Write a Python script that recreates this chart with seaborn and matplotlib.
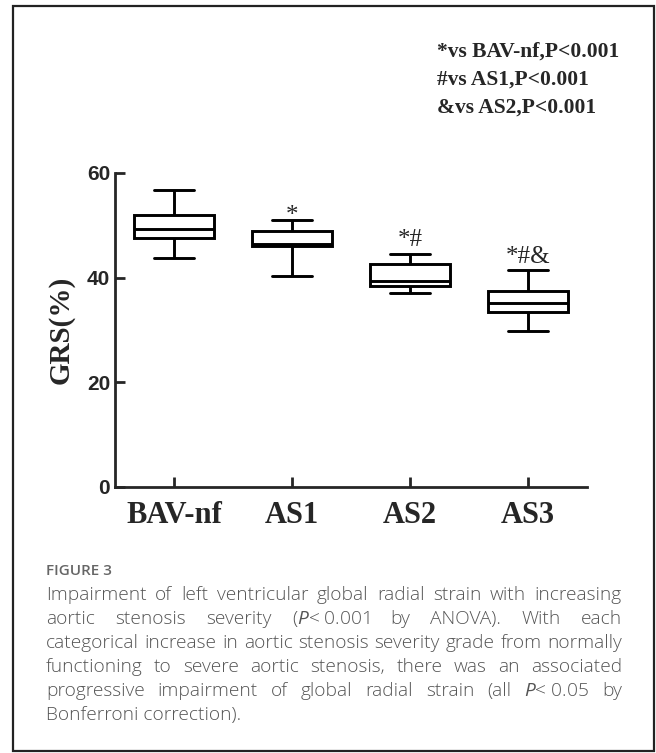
import numpy as np
import pandas as pd
import matplotlib
matplotlib.use("Agg")
import matplotlib.pyplot as plt
import seaborn as sns
from matplotlib.patches import Rectangle

# ── values (GRS %, five-number summary per group) ──
groups       = ["BAV-nf", "AS1", "AS2", "AS3"]
whisker_low  = [43.8, 40.4, 37.1, 29.9]
q1           = [47.6, 46.1, 38.5, 33.5]
median       = [49.3, 46.4, 39.3, 35.1]
q3           = [51.9, 48.9, 42.6, 37.5]
whisker_high = [56.8, 51.0, 44.5, 41.5]

sig_marks = ["", "*", "*#", "*#&"]
sig_y     = [0, 50.6, 46.0, 42.8]

legend_lines = ["*vs BAV-nf,P<0.001", "#vs AS1,P<0.001", "&vs AS2,P<0.001"]

caption_title = "FIGURE 3"
NB = "\u00a0"
caption_lines = [
    "Impairment of left ventricular global radial strain with increasing",
    f"aortic stenosis severity ($\\it{{P}}$<{NB}0.001 by ANOVA). With each",
    "categorical increase in aortic stenosis severity grade from normally",
    "functioning to severe aortic stenosis, there was an associated",
    f"progressive impairment of global radial strain (all $\\it{{P}}$<{NB}0.05 by",
    "Bonferroni correction).",
]

# five points per group -> quartiles land exactly on the read values
rows = []
for g, a, b, c, d, e in zip(groups, whisker_low, q1, median, q3, whisker_high):
    for v in (a, b, c, d, e):
        rows.append({"group": g, "grs": v})
df = pd.DataFrame(rows)

sns.set_style("ticks")
plt.rcParams["mathtext.fontset"] = "custom"
plt.rcParams["mathtext.rm"] = "Open Sans"
plt.rcParams["mathtext.it"] = "Open Sans:italic"

W, H = 656, 753
fig = plt.figure(figsize=(W / 100, H / 100), dpi=100)
ax = fig.add_axes([115 / W, 1 - 487 / H, 472 / W, 314 / H])

sns.boxplot(
    data=df, x="group", y="grs", order=groups, whis=np.inf,
    width=0.67, color="white", linecolor="black", linewidth=2.1,
    saturation=1, ax=ax,
)

sns.despine(ax=ax)
for side in ("left", "bottom"):
    ax.spines[side].set_linewidth(2.0)
ax.set_xlim(-0.5, 3.5)
ax.set_ylim(0, 60)
ax.set_yticks([0, 20, 40, 60])
ax.tick_params(direction="in", length=7, width=2.0)
ax.tick_params(axis="y", pad=3.5)
ax.tick_params(axis="x", pad=10)
for lab in ax.get_yticklabels():
    lab.set_fontfamily("Liberation Sans")
    lab.set_fontweight("bold")
    lab.set_fontsize(15)
for lab in ax.get_xticklabels():
    lab.set_fontfamily("Liberation Serif")
    lab.set_fontweight("bold")
    lab.set_fontsize(22)
ax.set_xlabel("")
ax.set_ylabel("GRS(%)", fontfamily="Liberation Serif", fontweight="bold", fontsize=21)
ax.yaxis.set_label_coords(-0.085, 0.5)

for i, (mark, y) in enumerate(zip(sig_marks, sig_y)):
    if mark:
        ax.text(i, y, mark, ha="center", va="baseline",
                fontfamily="Liberation Serif", fontsize=18)

for k, line in enumerate(legend_lines):
    fig.text(437 / W, 1 - (57 + 28 * k) / H, line, ha="left", va="baseline",
             fontfamily="Liberation Serif", fontweight="bold", fontsize=15.5)

# ── caption, justified like the journal layout ──
cap_kw = dict(fontfamily="Open Sans", fontweight="light", fontsize=13.8,
              color="#555555", va="baseline")
fig.text(46 / W, 1 - 575 / H, caption_title, fontfamily="Open Sans",
         fontweight="semibold", fontsize=11, color="#666666", va="baseline")

renderer = fig.canvas.get_renderer()
x_left, x_right = 46, 622
for k, line in enumerate(caption_lines):
    yb = 1 - (600 + 24 * k) / H
    if k == len(caption_lines) - 1:
        fig.text(x_left / W, yb, line.replace(NB, " "), **cap_kw)
        continue
    words = line.split(" ")
    texts = [fig.text(0, yb, w_.replace(NB, " "), **cap_kw) for w_ in words]
    widths = [t.get_window_extent(renderer).width for t in texts]
    gap = (x_right - x_left - sum(widths)) / (len(words) - 1)
    xpos = x_left
    for t, wd in zip(texts, widths):
        t.set_x(xpos / W)
        xpos += wd + gap

fig.patches.append(Rectangle((13 / W, 2 / H), 641 / W, 745 / H, transform=fig.transFigure,
                             fill=False, edgecolor="#222222", linewidth=1.6))

fig.savefig("out.png", dpi=100)
